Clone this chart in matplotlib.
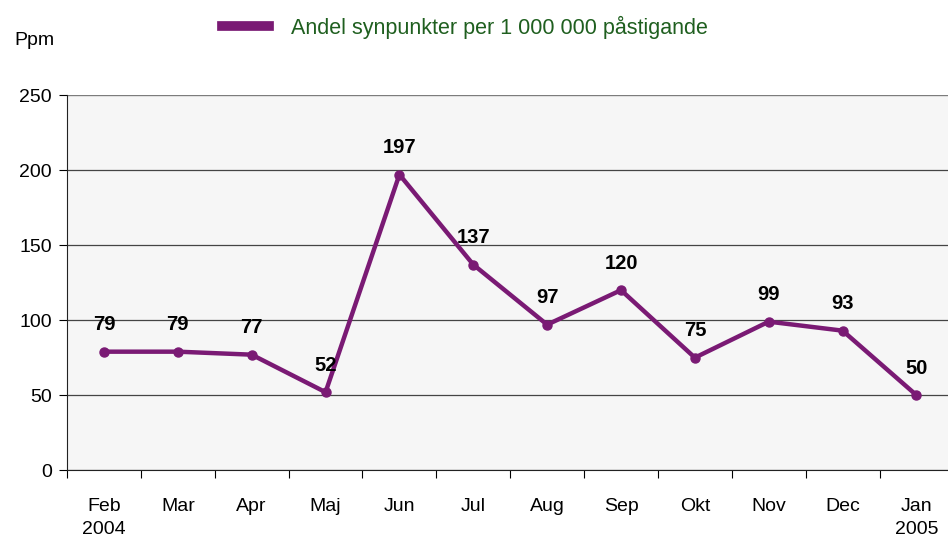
import matplotlib

matplotlib.use("Agg")
import matplotlib.pyplot as plt
import numpy as np

months = ["Feb\n2004", "Mar", "Apr", "Maj", "Jun", "Jul", "Aug", "Sep", "Okt", "Nov", "Dec", "Jan\n2005"]
ppm = [79, 79, 77, 52, 197, 137, 97, 120, 75, 99, 93, 50]
yticks = [0, 50, 100, 150, 200, 250]

PURPLE = "#7a1a74"
GREEN = "#1f5f1f"
plt.rcParams["font.family"] = ["Liberation Sans", "DejaVu Sans"]

fig = plt.figure(figsize=(9.48, 5.43), dpi=100)
ax = fig.add_axes([0.0707, 0.134, 0.935, 0.691])
ax.set_facecolor("#f6f6f6")

x = np.arange(len(months))
ax.plot(x, ppm, color=PURPLE, lw=3.2, marker="o", ms=6.5, zorder=3,
        label="Andel synpunkter per 1 000 000 påstigande")
for xi, v in zip(x, ppm):
    ax.annotate(f"{v}", (xi, v), xytext=(0, 12.5), textcoords="offset points",
                ha="center", va="bottom", fontsize=14.5, fontweight="bold")

ax.set_xlim(-0.5, len(months) - 0.5)
ax.set_ylim(0, 250)
ax.set_yticks(yticks)
ax.set_yticklabels([str(t) for t in yticks], fontsize=14)
ax.yaxis.grid(True, color="#444444", lw=0.9)
ax.set_axisbelow(True)
ax.set_xticks(np.arange(len(months) + 1) - 0.5)
ax.set_xticklabels([])
ax.set_xticks(x, minor=True)
ax.set_xticklabels(months, minor=True, fontsize=14, linespacing=1.45)
ax.tick_params(axis="x", which="minor", length=0, pad=20)
ax.tick_params(axis="x", which="major", length=6, direction="out")
ax.tick_params(axis="y", length=6, pad=5)
for s in ("top", "right"):
    ax.spines[s].set_visible(False)
ax.spines["left"].set_color("#222222")
ax.spines["bottom"].set_color("#222222")
ax.axhline(250, color="#888888", lw=1.2)

fig.text(0.015, 0.925, "Ppm", fontsize=14, va="center")
leg = fig.legend(handles=[ax.lines[0]], loc="center", bbox_to_anchor=(0.49, 0.95),
                 frameon=False, fontsize=15.5, handlelength=2.2, handletextpad=1.0,
                 markerscale=0)
for t in leg.get_texts():
    t.set_color(GREEN)
leg.legend_handles[0].set_marker("")
leg.legend_handles[0].set_linewidth(7)

fig.savefig("out.png", dpi=100)
